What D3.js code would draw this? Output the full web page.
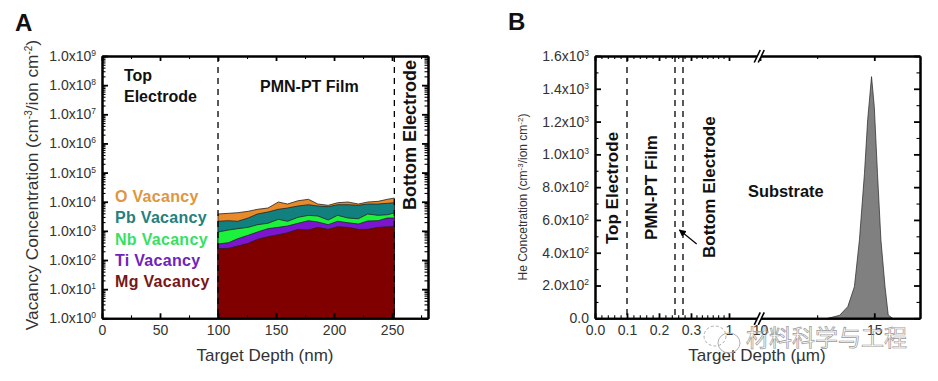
<!DOCTYPE html>
<html>
<head>
<meta charset="utf-8">
<script src="https://cdn.jsdelivr.net/npm/d3@7"></script>
<style>
    html, body { margin: 0; padding: 0; background: #fff; }
    svg { display: block; font-family: "Liberation Sans", Arial, sans-serif; }
    .axisLine path { stroke: #000; stroke-width: 2; }
    .axisLine line { stroke: #000; stroke-width: 1.8; }
    .minor line { stroke-width: 1.1; }
    .tickText text { font-size: 14px; fill: #333; font-family: "Liberation Sans", Arial, sans-serif; }
    .note { font-weight: bold; fill: #111; }
</style>
</head>
<body>
<svg id="svgChart" width="938" height="381"></svg>
<script>
// panel A, target depth (nm) and top edge of each band (cm-3/ion cm-2)
var depthA = [100, 109, 117, 126, 134, 143, 152, 160, 169, 178, 186, 195, 203, 212, 221, 229, 238, 246, 252]
var oVacancy = [3790, 4000, 4200, 4690, 5490, 6080, 9770, 8340, 10800, 12100, 8340, 7530, 9240, 9770, 8340, 9770, 10300, 12100, 13400]
var pbVacancy = [2130, 2230, 2130, 2760, 3790, 4430, 5490, 6080, 7120, 7890, 7120, 6740, 7890, 7890, 7530, 8340, 8340, 8810, 9240]
var nbVacancy = [913, 1070, 1190, 1320, 1630, 1820, 2490, 2130, 2920, 3410, 3230, 2360, 3410, 2760, 2610, 3790, 3410, 3580, 4100]
var tiVacancy = [354, 392, 538, 703, 913, 1190, 1320, 1470, 1820, 2230, 2010, 1630, 2130, 1900, 1720, 2180, 2230, 2760, 2760]
var mgVacancy = [244, 252, 302, 374, 513, 630, 738, 865, 1130, 1070, 1320, 1130, 1390, 1320, 1130, 1130, 1320, 1390, 1390]
var bandNames = ["O Vacancy", "Pb Vacancy", "Nb Vacancy", "Ti Vacancy", "Mg Vacancy"]
var bandColors = ["#e88a2a", "#11807f", "#1cf23c", "#7d14cf", "#800000"]
var labelColors = ["#e0953f", "#23807f", "#38e062", "#7022bd", "#7a1616"]

var xTicksA = [0, 50, 100, 150, 200, 250]
var xMinorA = [25, 75, 125, 175, 225, 275]
var yExponentsA = [0, 1, 2, 3, 4, 5, 6, 7, 8, 9]
var filmEdgesA = [100, 252]

// panel B, helium depth profile
var depthB = [12.97, 13.48, 13.84, 14.13, 14.35, 14.57, 14.71, 14.88, 15.0, 15.14, 15.29, 15.47, 15.61, 15.8]
var heConc = [0, 18, 71, 193, 478, 884, 1210, 1474, 1291, 884, 478, 193, 20, 0]
var xTicksB = [0, 0.1, 0.2, 0.3, 1, 10, 15]
var xTickLabelsB = ["0.0", "0.1", "0.2", "0.3", "1", "10", "15"]
var xMinorB = [0.02, 0.04, 0.06, 0.08, 0.12, 0.14, 0.16, 0.18, 0.22, 0.24, 0.26, 0.28, 0.4, 0.5, 0.6, 0.7, 0.8, 0.9, 12.5]
var yTicksB = [0, 200, 400, 600, 800, 1000, 1200, 1400, 1600]
var yMinorB = [100, 300, 500, 700, 900, 1100, 1300, 1500]
var layerEdgesB = [0.1, 0.25, 0.275]

var svg = d3.select("#svgChart")
var plotTop = 56, plotBottom = 318.3

const xA = d3.scaleLinear().domain([0, 281]).range([102, 428])
const yA = d3.scaleLog().domain([1, 1e9]).range([plotBottom, plotTop])

// the broken axis of panel B is a piecewise scale
const xB = d3.scaleLinear().domain([0, 0.3, 1, 10, 17]).range([595, 691, 729, 760, 920])
const yB = d3.scaleLinear().domain([0, 1600]).range([plotBottom, plotTop])

function supLabel(sel, base, exp) {
    sel.text(null)
    sel.append("tspan").text(base)
    sel.append("tspan").attr("dy", "-5").style("font-size", "8.5px").text(exp)
}

function frame(xS, yS, xMajor, xMinor, yMajor, yMinor) {
    var x0 = xS.range()[0], x1 = xS.range()[xS.range().length - 1]

    svg.append("g").attr("class", "axisLine").attr("transform", `translate(0,${plotBottom})`)
        .call(d3.axisBottom(xS).tickValues(xMajor).tickSizeInner(-5).tickSizeOuter(0).tickPadding(7).tickFormat(""))
    svg.append("g").attr("class", "axisLine").attr("transform", `translate(0,${plotTop})`)
        .call(d3.axisTop(xS).tickValues(xMajor).tickSizeInner(-5).tickSizeOuter(0).tickFormat(""))
    svg.append("g").attr("class", "axisLine minor").attr("transform", `translate(0,${plotBottom})`)
        .call(d3.axisBottom(xS).tickValues(xMinor).tickSizeInner(-3).tickSizeOuter(0).tickFormat(""))
    svg.append("g").attr("class", "axisLine minor").attr("transform", `translate(0,${plotTop})`)
        .call(d3.axisTop(xS).tickValues(xMinor).tickSizeInner(-3).tickSizeOuter(0).tickFormat(""))

    svg.append("g").attr("class", "axisLine").attr("transform", `translate(${x0},0)`)
        .call(d3.axisLeft(yS).tickValues(yMajor).tickSizeInner(-6).tickSizeOuter(0).tickFormat(""))
    svg.append("g").attr("class", "axisLine").attr("transform", `translate(${x1},0)`)
        .call(d3.axisRight(yS).tickValues(yMajor).tickSizeInner(-6).tickSizeOuter(0).tickFormat(""))
    svg.append("g").attr("class", "axisLine minor").attr("transform", `translate(${x0},0)`)
        .call(d3.axisLeft(yS).tickValues(yMinor).tickSizeInner(-3.5).tickSizeOuter(0).tickFormat(""))
    svg.append("g").attr("class", "axisLine minor").attr("transform", `translate(${x1},0)`)
        .call(d3.axisRight(yS).tickValues(yMinor).tickSizeInner(-3.5).tickSizeOuter(0).tickFormat(""))
}

function note(txt, x, y, size, rotate) {
    svg.append("text").attr("class", "note")
        .attr("transform", rotate ? `translate(${x},${y}) rotate(-90)` : `translate(${x},${y})`)
        .style("font-size", size + "px")
        .text(txt)
}

function dashed(xS, v) {
    svg.append("line")
        .attr("x1", xS(v)).attr("x2", xS(v))
        .attr("y1", plotTop).attr("y2", plotBottom)
        .attr("stroke", "#000").attr("stroke-width", 1.3)
        .attr("stroke-dasharray", "6,5")
}

// ---------- panel A ----------
var bands = [oVacancy, pbVacancy, nbVacancy, tiVacancy, mgVacancy]
var bandArea = d3.area()
    .x(function (d) { return xA(d.depth) })
    .y0(yA(1))
    .y1(function (d) { return yA(d.conc) })

bands.forEach(function (band, i) {
    svg.append("path")
        .datum(band.map(function (c, j) { return { depth: depthA[j], conc: c } }))
        .attr("d", bandArea)
        .attr("fill", bandColors[i])
        .attr("stroke", "#222").attr("stroke-width", 0.8)
})

filmEdgesA.forEach(function (d) { dashed(xA, d) })

var yMinorA = []
yExponentsA.slice(0, -1).forEach(function (e) {
    d3.range(2, 10).forEach(function (m) { yMinorA.push(m * Math.pow(10, e)) })
})
frame(xA, yA, xTicksA, xMinorA, yExponentsA.map(function (e) { return Math.pow(10, e) }), yMinorA)

svg.append("g").attr("class", "tickText").attr("transform", `translate(0,${plotBottom})`)
    .call(d3.axisBottom(xA).tickValues(xTicksA).tickSize(0).tickPadding(7))
    .call(function (g) { g.select(".domain").remove() })

svg.append("g").attr("class", "tickText").attr("transform", `translate(${xA.range()[0]},0)`)
    .call(d3.axisLeft(yA).tickValues(yExponentsA.map(function (e) { return Math.pow(10, e) })).tickSize(0).tickPadding(6))
    .call(function (g) { g.select(".domain").remove() })
    .selectAll("text").each(function (d, i) { supLabel(d3.select(this), "1.0x10", yExponentsA[i]) })

bandNames.forEach(function (name, i) {
    svg.append("text").attr("x", 115).attr("y", 201.7 + i * 21.4)
        .attr("fill", labelColors[i])
        .style("font-size", "16px").style("font-weight", "bold").style("letter-spacing", "0.3px")
        .text(name)
})

note("Top", 124, 81, 16)
note("Electrode", 124, 102, 16)
note("PMN-PT Film", 260, 92, 16)
note("Bottom Electrode", 416, 210, 18, true)
note("A", 15, 31, 24)

svg.append("text").attr("x", 265).attr("y", 361).attr("text-anchor", "middle")
    .style("font-size", "17px").attr("fill", "#333")
    .text("Target Depth (nm)")

var labelA = svg.append("text").attr("transform", "translate(38,185) rotate(-90)")
    .attr("text-anchor", "middle").style("font-size", "17.3px").attr("fill", "#333")
labelA.append("tspan").text("Vacancy Concentration (cm")
labelA.append("tspan").attr("dy", -6).style("font-size", "10px").text("-3")
labelA.append("tspan").attr("dy", 6).text("/ion cm")
labelA.append("tspan").attr("dy", -6).style("font-size", "10px").text("-2")
labelA.append("tspan").attr("dy", 6).text(")")

// ---------- panel B ----------
var peakArea = d3.area()
    .x(function (d) { return xB(d.depth) })
    .y0(yB(0))
    .y1(function (d) { return yB(d.conc) })

svg.append("path")
    .datum(depthB.map(function (d, j) { return { depth: d, conc: heConc[j] } }))
    .attr("d", peakArea)
    .attr("fill", "#808080")
    .attr("stroke", "#222").attr("stroke-width", 0.7)

layerEdgesB.forEach(function (d) { dashed(xB, d) })
frame(xB, yB, xTicksB, xMinorB, yTicksB, yMinorB)

svg.append("g").attr("class", "tickText").attr("transform", `translate(0,${plotBottom})`)
    .call(d3.axisBottom(xB).tickValues(xTicksB).tickSize(0).tickPadding(7)
        .tickFormat(function (d, i) { return xTickLabelsB[i] }))
    .call(function (g) { g.select(".domain").remove() })

svg.append("g").attr("class", "tickText").attr("transform", `translate(${xB.range()[0]},0)`)
    .call(d3.axisLeft(yB).tickValues(yTicksB).tickSize(0).tickPadding(6))
    .call(function (g) { g.select(".domain").remove() })
    .selectAll("text").each(function (d) {
        var t = d3.select(this)
        if (d === 0) { t.text("0.0"); return }
        var exp = d < 1000 ? 2 : 3
        supLabel(t, d3.format(".1f")(d / Math.pow(10, exp)) + "x10", exp)
    })

// axis break marks, top and bottom
var breakX = xB(9.2)
;[plotTop, plotBottom].forEach(function (y) {
    svg.append("polygon")
        .attr("points", `${breakX - 2},${y + 6} ${breakX + 2},${y + 6} ${breakX + 6},${y - 6} ${breakX + 2},${y - 6}`)
        .attr("fill", "#fff")
    ;[-2, 2].forEach(function (off) {
        svg.append("line")
            .attr("x1", breakX + off - 1).attr("y1", y + 6.5)
            .attr("x2", breakX + off + 5).attr("y2", y - 6)
            .attr("stroke", "#000").attr("stroke-width", 1.6)
    })
})

note("Top Electrode", 618, 244, 17, true)
note("PMN-PT Film", 657, 240, 17, true)
note("Bottom Electrode", 715, 258, 17, true)
note("Substrate", 748, 197, 16.4)
note("B", 508, 30, 24)

// arrow to the bottom electrode
svg.append("defs").append("marker").attr("id", "arrowHead")
    .attr("viewBox", "0 0 8 8").attr("refX", 7).attr("refY", 4)
    .attr("markerWidth", 6).attr("markerHeight", 6).attr("orient", "auto")
    .append("path").attr("d", "M0,0 L8,4 L0,8 Z").attr("fill", "#000")
svg.append("line")
    .attr("x1", 696.7).attr("y1", 244).attr("x2", 679.5).attr("y2", 230)
    .attr("stroke", "#000").attr("stroke-width", 1.2)
    .attr("marker-end", "url(#arrowHead)")

svg.append("text").attr("x", 757).attr("y", 361).attr("text-anchor", "middle")
    .style("font-size", "17px").attr("fill", "#333")
    .text("Target Depth (\u00b5m)")

var labelB = svg.append("text").attr("transform", "translate(527,197) rotate(-90)")
    .attr("text-anchor", "middle").style("font-size", "12px").attr("fill", "#333")
labelB.append("tspan").text("He Concetration (cm")
labelB.append("tspan").attr("dy", -4).style("font-size", "8px").text("-3")
labelB.append("tspan").attr("dy", 4).text("/ion cm")
labelB.append("tspan").attr("dy", -4).style("font-size", "8px").text("-2")
labelB.append("tspan").attr("dy", 4).text(")")

// source watermark over the lower right corner, sits over the axis text as in the reference
var mark = svg.append("g").attr("fill", "none").attr("stroke", "#b0b0b0").attr("stroke-width", 1)
mark.append("ellipse").attr("cx", 715).attr("cy", 336).attr("rx", 11).attr("ry", 10).attr("stroke-dasharray", "3,2")
mark.append("ellipse").attr("cx", 729).attr("cy", 343).attr("rx", 11).attr("ry", 10)
svg.append("text").attr("x", 746).attr("y", 346)
    .style("font-family", "'Noto Sans CJK SC'").style("font-size", "23px")
    .attr("fill", "none").attr("stroke", "#9a9a9a").attr("stroke-width", 0.7)
    .text("材料科学与工程")
</script>
</body>
</html>
